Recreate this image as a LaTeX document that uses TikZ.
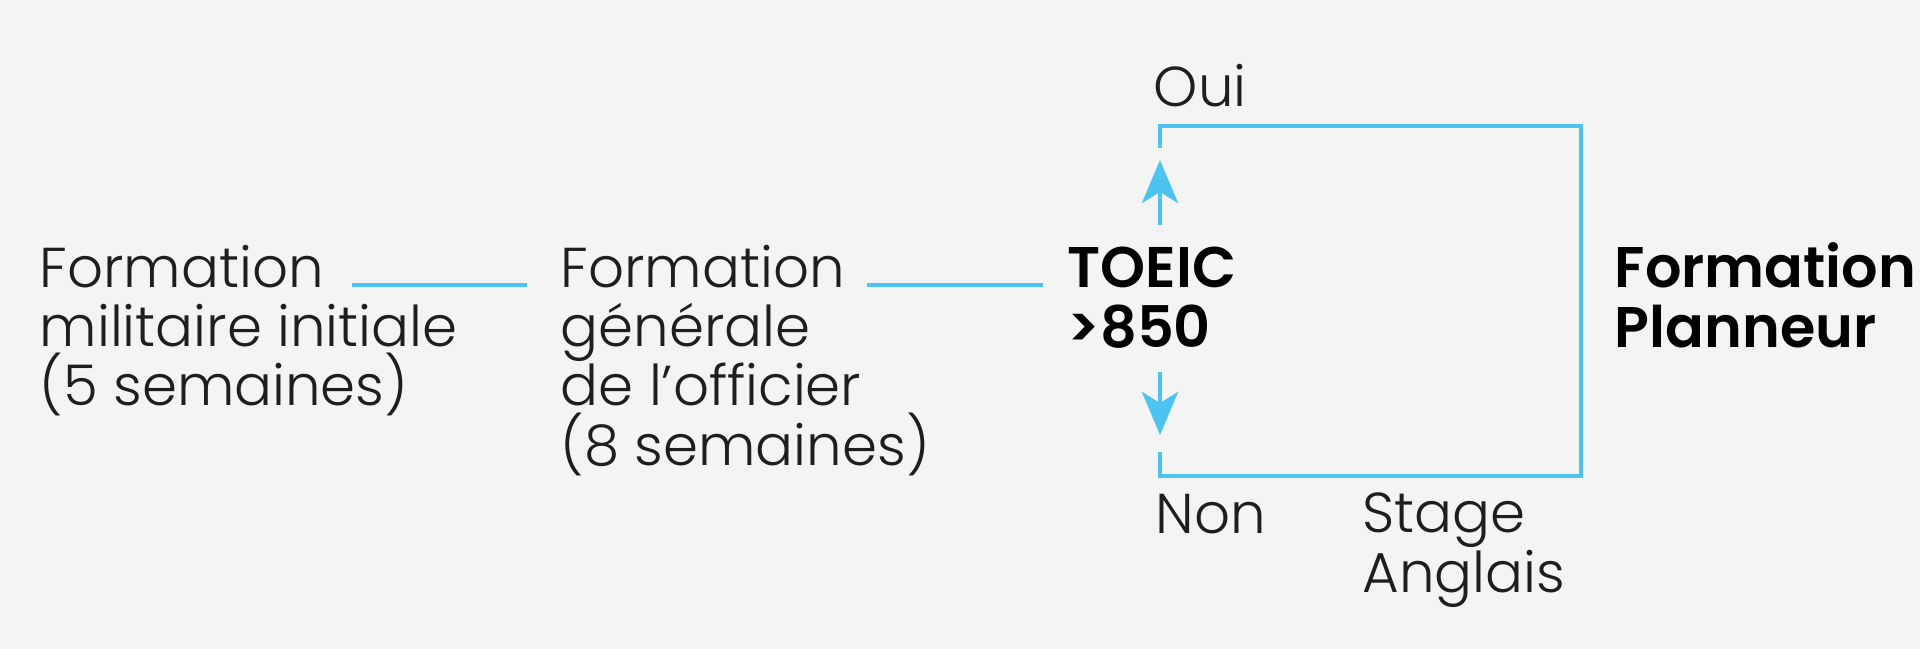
\documentclass[tikz,border=0pt]{standalone}
\usepackage{fontspec}
\setmainfont{Poppins Light}[BoldFont={Poppins SemiBold}]
\usetikzlibrary{arrows.meta}
\definecolor{ciel}{HTML}{4DC3F0}
\definecolor{fond}{HTML}{F4F4F4}
\definecolor{encre}{HTML}{1E1E1E}
\tikzset{
  etape/.style={anchor=base west,inner sep=0pt,align=left,text=encre,
    font=\fontsize{16}{16.8}\selectfont},
  etapegras/.style={etape,text=black,font=\fontsize{16.3}{16.8}\selectfont\bfseries},
  lien/.style={ciel,line width=0.45mm},
  fleche/.style={lien,-{Stealth[length=4.3mm,width=3.6mm,inset=1.1mm]}}
}
\begin{document}
\begin{tikzpicture}[x=0.1mm,y=-0.1mm]
\fill[fond] (0,0) rectangle (1920,649);
% etapes (base = derniere ligne)
\node[etape] (fmi) at (39,406) {Formation\\militaire initiale\\(5 semaines)};
\node[etape] (fgo) at (560,465) {Formation\\générale\\de l’officier\\(8 semaines)};
\node[etapegras] (toeic) at (1067,347) {TOEIC\\>850};
\node[etapegras] (fp) at (1614,347) {Formation\\Planneur};
\node[etape] (oui) at (1153,107) {Oui};
\node[etape] (non) at (1155,533) {Non};
\node[etape] (stage) at (1362,592) {Stage\\Anglais};
% liens
\coordinate (fmi-e) at (352,285);
\coordinate (fgo-w) at (527,285);
\coordinate (fgo-e) at (867,285);
\coordinate (toeic-w) at (1043,285);
\draw[lien] (fmi-e) -- (fgo-w);
\draw[lien] (fgo-e) -- (toeic-w);
% branches
\coordinate (toeic-n) at (1160,225);
\coordinate (oui-b) at (1160,160);
\coordinate (toeic-s) at (1160,372);
\coordinate (non-b) at (1160,435);
\coordinate (oui-s) at (1160,148);
\coordinate (non-s) at (1160,452);
\coordinate (ne) at (1581,126);
\coordinate (se) at (1581,476);
\draw[fleche] (toeic-n) -- (oui-b);
\draw[fleche] (toeic-s) -- (non-b);
\draw[lien] (oui-s) |- (ne) -- (se) -| (non-s);
\end{tikzpicture}
\end{document}
